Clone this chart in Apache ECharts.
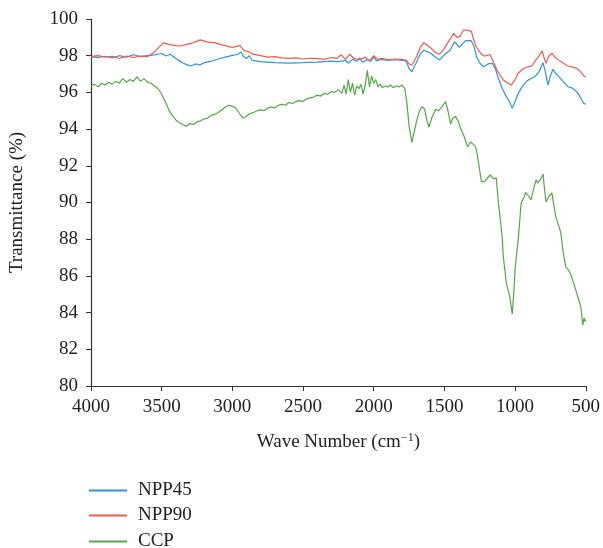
<!DOCTYPE html>
<html>
<head>
<meta charset="utf-8">
<script src="https://cdn.jsdelivr.net/npm/echarts@6/dist/echarts.min.js"></script>
<style>
  html, body { margin: 0; padding: 0; background: #fff; }
  #chart { width: 603px; height: 548px; }
</style>
</head>
<body>
<div id="chart"></div>
<script>
// wave number (cm-1), transmittance (%)
const npp45 = [
  [4000, 97.95], [3950, 97.9], [3900, 97.97], [3850, 97.88], [3800, 98.0], [3750, 97.92],
  [3700, 98.05], [3650, 97.95], [3600, 98.0], [3550, 98.05], [3500, 98.12], [3470, 97.98],
  [3440, 98.08], [3400, 97.85], [3350, 97.6], [3320, 97.5], [3290, 97.45], [3260, 97.55],
  [3230, 97.5], [3200, 97.62], [3150, 97.7], [3100, 97.82], [3050, 97.92], [3000, 98.02],
  [2960, 98.08], [2940, 98.2], [2920, 97.95], [2900, 97.85], [2880, 98.0], [2860, 97.75],
  [2800, 97.68], [2700, 97.62], [2600, 97.6], [2500, 97.62], [2400, 97.65], [2300, 97.7],
  [2250, 97.68], [2200, 97.75], [2180, 97.6], [2150, 97.8], [2120, 97.7], [2100, 97.88],
  [2080, 97.65], [2050, 97.78], [2020, 97.7], [2000, 97.95], [1980, 97.72], [1950, 97.8],
  [1900, 97.74], [1850, 97.78], [1800, 97.75], [1770, 97.7], [1750, 97.3], [1730, 97.13],
  [1700, 97.6], [1670, 98.1], [1645, 98.3], [1600, 98.15], [1560, 97.9], [1533, 97.77],
  [1500, 98.05], [1460, 98.3], [1428, 98.76], [1393, 98.45], [1350, 98.82], [1310, 98.82],
  [1290, 98.5], [1273, 97.95], [1250, 97.6], [1224, 97.4], [1190, 97.55], [1161, 97.58],
  [1140, 97.3], [1118, 96.77], [1090, 96.2], [1062, 95.77], [1040, 95.5], [1020, 95.13],
  [1000, 95.5], [978, 95.95], [950, 96.3], [922, 96.58], [900, 96.7], [887, 96.64],
  [860, 96.85], [830, 97.13], [802, 97.62], [785, 97.1], [767, 96.4], [750, 96.9],
  [732, 97.26], [710, 97.0], [690, 96.86], [660, 96.6], [627, 96.31], [600, 96.25],
  [577, 96.13], [550, 95.9], [530, 95.6], [514, 95.4], [500, 95.35]
]

const npp90 = [
  [4000, 97.95], [3950, 98.0], [3900, 97.92], [3850, 97.97], [3800, 97.85], [3750, 97.98],
  [3700, 97.9], [3650, 97.98], [3600, 97.95], [3560, 98.15], [3520, 98.45], [3487, 98.7],
  [3450, 98.62], [3400, 98.55], [3367, 98.53], [3320, 98.62], [3280, 98.7], [3227, 98.86],
  [3180, 98.75], [3120, 98.7], [3080, 98.6], [3051, 98.55], [3000, 98.45], [2946, 98.55],
  [2920, 98.3], [2880, 98.2], [2862, 98.1], [2800, 98.0], [2750, 97.92], [2700, 97.95],
  [2650, 97.88], [2600, 97.85], [2550, 97.88], [2500, 97.82], [2450, 97.86], [2400, 97.84],
  [2350, 97.8], [2300, 97.9], [2260, 97.85], [2230, 98.05], [2200, 97.8], [2170, 98.08],
  [2140, 97.85], [2100, 97.78], [2060, 97.92], [2030, 97.72], [2000, 98.0], [1970, 97.8],
  [1940, 97.85], [1900, 97.78], [1850, 97.82], [1800, 97.8], [1770, 97.75], [1750, 97.55],
  [1730, 97.48], [1700, 97.9], [1670, 98.45], [1645, 98.71], [1600, 98.45], [1560, 98.15],
  [1533, 98.08], [1500, 98.4], [1460, 98.9], [1435, 99.22], [1410, 99.0], [1390, 99.05],
  [1365, 99.4], [1330, 99.38], [1308, 99.31], [1290, 98.8], [1273, 98.46], [1240, 98.1],
  [1217, 97.98], [1190, 98.04], [1175, 98.04], [1150, 97.6], [1120, 97.1], [1083, 96.68],
  [1050, 96.5], [1027, 96.4], [1000, 96.7], [978, 97.04], [940, 97.3], [907, 97.4],
  [880, 97.45], [850, 97.8], [830, 98.0], [809, 98.27], [795, 97.9], [781, 97.58],
  [760, 98.0], [739, 98.13], [715, 97.9], [697, 97.8], [660, 97.6], [627, 97.44],
  [600, 97.4], [563, 97.31], [540, 97.15], [514, 96.9], [500, 96.85]
]

const ccp = [
  [4000, 96.35], [3975, 96.45], [3950, 96.3], [3925, 96.5], [3900, 96.4], [3875, 96.55],
  [3850, 96.45], [3825, 96.6], [3800, 96.5], [3775, 96.75], [3750, 96.55], [3725, 96.7],
  [3700, 96.6], [3675, 96.85], [3650, 96.6], [3625, 96.75], [3600, 96.55], [3575, 96.5],
  [3550, 96.35], [3525, 96.2], [3500, 95.9], [3475, 95.5], [3450, 95.05], [3425, 94.75],
  [3400, 94.5], [3375, 94.35], [3350, 94.25], [3325, 94.15], [3300, 94.3], [3275, 94.25],
  [3250, 94.4], [3225, 94.45], [3200, 94.55], [3175, 94.6], [3150, 94.75], [3125, 94.8],
  [3100, 94.9], [3075, 95.05], [3050, 95.2], [3025, 95.3], [3000, 95.25], [2975, 95.15],
  [2950, 94.85], [2925, 94.6], [2900, 94.7], [2875, 94.85], [2850, 94.9], [2825, 95.0],
  [2800, 95.05], [2775, 95.0], [2750, 95.15], [2725, 95.2], [2700, 95.15], [2675, 95.3],
  [2650, 95.35], [2625, 95.3], [2600, 95.45], [2575, 95.4], [2550, 95.5], [2525, 95.55],
  [2500, 95.5], [2475, 95.65], [2450, 95.7], [2425, 95.75], [2400, 95.85], [2375, 95.8],
  [2350, 95.95], [2325, 95.9], [2300, 96.05], [2275, 96.0], [2250, 96.15], [2225, 95.95],
  [2210, 96.4], [2195, 95.9], [2180, 96.7], [2165, 96.0], [2150, 96.5], [2135, 95.85],
  [2120, 96.35], [2105, 96.2], [2090, 96.45], [2075, 95.9], [2060, 96.4], [2045, 97.2],
  [2030, 96.3], [2015, 96.9], [2000, 96.5], [1985, 96.7], [1970, 96.3], [1955, 96.45],
  [1940, 96.25], [1920, 96.35], [1900, 96.3], [1880, 96.4], [1860, 96.25], [1840, 96.35],
  [1820, 96.3], [1800, 96.4], [1780, 96.2], [1765, 95.4], [1750, 94.2], [1730, 93.26],
  [1715, 93.8], [1695, 94.5], [1675, 95.0], [1660, 95.22], [1640, 95.1], [1625, 94.5],
  [1610, 94.1], [1590, 94.6], [1561, 95.08], [1540, 95.0], [1526, 95.05], [1505, 95.35],
  [1491, 95.5], [1475, 95.0], [1456, 94.28], [1440, 94.6], [1421, 94.68], [1400, 94.4],
  [1386, 94.04], [1360, 93.6], [1336, 93.04], [1315, 93.3], [1301, 93.37], [1285, 93.1],
  [1273, 92.86], [1255, 92.0], [1238, 91.13], [1215, 91.15], [1195, 91.35], [1175, 91.5],
  [1155, 91.3], [1133, 91.33], [1118, 89.97], [1104, 89.05], [1090, 88.0], [1083, 87.03],
  [1062, 85.61], [1045, 85.1], [1034, 84.69], [1020, 83.92], [1008, 85.2], [999, 86.49],
  [978, 87.96], [957, 89.97], [936, 90.3], [925, 90.55], [915, 90.57], [900, 90.3],
  [887, 90.14], [870, 90.7], [851, 91.23], [840, 91.06], [825, 91.2], [810, 91.4],
  [802, 91.55], [790, 90.6], [781, 90.03], [760, 90.35], [739, 90.52], [725, 89.8],
  [711, 89.2], [690, 88.7], [676, 88.34], [660, 87.3], [641, 86.49], [620, 86.3],
  [605, 86.05], [590, 85.7], [577, 85.4], [556, 84.85], [535, 84.31], [521, 83.32],
  [512, 83.7], [507, 83.6], [500, 83.5]
]

const seriesNames = ['NPP45', 'NPP90', 'CCP']
const seriesColors = ['#2f95dc', '#ef5b4e', '#55a747']

const font = 'Liberation Serif'
const chart = echarts.init(document.getElementById('chart'))

const makeSeries = (name, data, color) => ({
  name: name,
  type: 'line',
  data: data,
  showSymbol: false,
  symbol: 'none',
  smooth: false,
  lineStyle: { width: 1.2, color: color },
  itemStyle: { color: color }
})

// one legend per entry so they stack like the reference
const legendTops = [476, 501, 527]
const makeLegend = (i) => ({
  left: 84,
  top: legendTops[i],
  icon: 'rect',
  itemWidth: 38,
  itemHeight: 2,
  textStyle: { fontFamily: font, fontSize: 19, color: '#222', padding: [0, 0, 0, 6] },
  data: [seriesNames[i]]
})

chart.setOption({
  animation: false,
  backgroundColor: '#fff',
  grid: { left: 90, right: 15, top: 19, bottom: 162 },
  legend: [makeLegend(0), makeLegend(1), makeLegend(2)],
  xAxis: {
    type: 'value',
    min: 500,
    max: 4000,
    interval: 500,
    inverse: true,
    name: 'Wave Number (cm{sup|−1})',
    nameLocation: 'middle',
    nameGap: 46,
    nameTextStyle: {
      fontFamily: font, fontSize: 19, color: '#222',
      rich: { sup: { fontFamily: font, fontSize: 12, color: '#222', verticalAlign: 'top', padding: [0, 0, 8, 0] } }
    },
    axisLine: { lineStyle: { color: '#333', width: 1.2 } },
    axisTick: { show: true, length: 5, lineStyle: { color: '#333' } },
    axisLabel: { fontFamily: font, fontSize: 19, color: '#222', margin: 12, formatter: (v) => String(v) },
    splitLine: { show: false }
  },
  yAxis: {
    type: 'value',
    min: 80,
    max: 100,
    interval: 2,
    name: 'Transmittance (%)',
    nameLocation: 'middle',
    nameGap: 64,
    nameTextStyle: { fontFamily: font, fontSize: 19, color: '#222' },
    axisLine: { show: true, lineStyle: { color: '#333', width: 1.2 } },
    axisTick: { show: true, length: 5, lineStyle: { color: '#333' } },
    axisLabel: { fontFamily: font, fontSize: 19, color: '#222', margin: 13 },
    splitLine: { show: false }
  },
  series: [
    makeSeries(seriesNames[0], npp45, seriesColors[0]),
    makeSeries(seriesNames[1], npp90, seriesColors[1]),
    makeSeries(seriesNames[2], ccp, seriesColors[2])
  ]
})
</script>
</body>
</html>
